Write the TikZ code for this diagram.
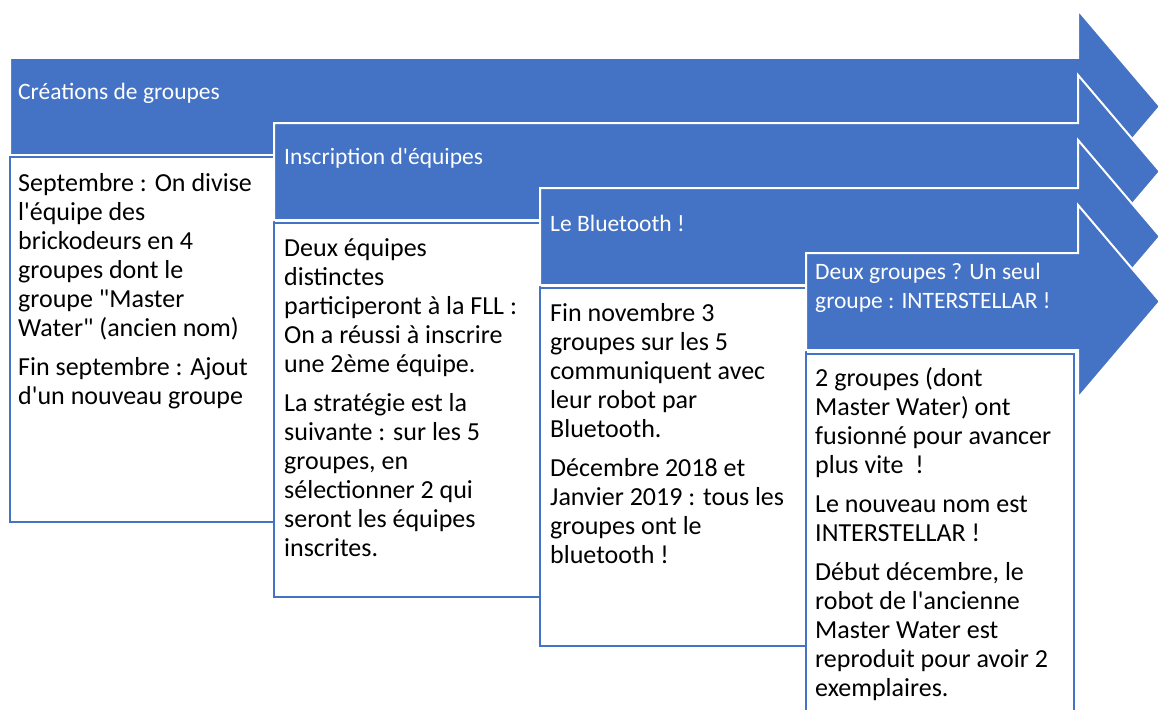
\documentclass[tikz,border=0pt]{standalone}
\usepackage{fontspec}
\setmainfont{Carlito}[Ligatures=TeXOff]
\definecolor{accent}{HTML}{4472C4}
\begin{document}
\begin{tikzpicture}[x=1pt,y=-1pt,
  phase/.style={fill=accent,draw=white,line width=2pt,line join=miter},
  detail/.style={fill=white,draw=accent,line width=2.5pt},
  headtext/.style={text=white,font=\fontsize{23.5}{29}\selectfont,align=left,anchor=west,inner sep=0pt},
  bodytext/.style={text=black,font=\fontsize{26}{29}\selectfont,align=left,anchor=north west,inner sep=0pt}]
\useasboundingbox (0,0) rectangle (1158,709);

% phase 1
\draw[phase] (10,58) -- (1078,58) -- (1078,10) -- (1160,106.5) -- (1078,203) -- (1078,155) -- (10,155) -- cycle;
\node[headtext] (h1) at (18,93) {Créations de groupes};
\draw[detail] (10,157) rectangle (274,522);
\node[bodytext] (b1) at (18,170.7) {\strut Septembre : On divise\\
l'équipe des\\ brickodeurs en 4\\ groupes dont le\\ groupe "Master\\ Water" (ancien nom)\\[10pt]
Fin septembre : Ajout\\ d'un nouveau groupe};

% phase 2
\draw[phase] (274,123) -- (1078,123) -- (1078,75) -- (1160,171.5) -- (1078,268) -- (1078,220) -- (274,220) -- cycle;
\node[headtext] (h2) at (284,158) {Inscription d'équipes};
\draw[detail] (274,223) rectangle (540,597);
\node[bodytext] (b2) at (284,235.7) {\strut Deux équipes\\ distinctes\\ participeront à la FLL :\\
On a réussi à inscrire\\ une 2ème équipe.\\[10pt]
La stratégie est la\\ suivante : sur les 5\\ groupes, en\\ sélectionner 2 qui\\ seront les équipes\\ inscrites.};

% phase 3
\draw[phase] (540,188) -- (1078,188) -- (1078,140) -- (1160,236.5) -- (1078,333) -- (1078,285) -- (540,285) -- cycle;
\node[headtext] (h3) at (550,223) {Le Bluetooth !};
\draw[detail] (540,288) rectangle (806,646);
\node[bodytext] (b3) at (550,300.7) {\strut Fin novembre 3\\ groupes sur les 5\\ communiquent avec\\ leur robot par\\ Bluetooth.\\[10pt]
Décembre 2018 et\\ Janvier 2019 : tous les\\ groupes ont le\\ bluetooth !};

% phase 4
\draw[phase] (806,253) -- (1078,253) -- (1078,205) -- (1160,301.5) -- (1078,398) -- (1078,350) -- (806,350) -- cycle;
\node[headtext] (h4) at (815,288) {Deux groupes ? Un seul\\ groupe : INTERSTELLAR !};
\draw[detail] (806,354) rectangle (1074,720);
\node[bodytext] (b4) at (815,365.7) {\strut 2 groupes (dont\\ Master Water) ont\\ fusionné pour avancer\\ plus vite\ \ !\\[10pt]
Le nouveau nom est\\ INTERSTELLAR !\\[10pt]
Début décembre, le\\ robot de l'ancienne\\ Master Water est\\ reproduit pour avoir 2\\ exemplaires.};
\end{tikzpicture}
\end{document}
